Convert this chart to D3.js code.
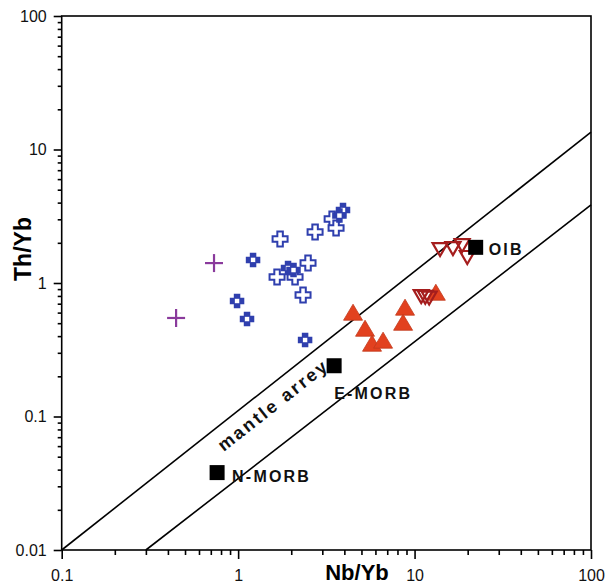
<!DOCTYPE html>
<html>
<head>
<meta charset="utf-8">
<script src="https://cdn.jsdelivr.net/npm/d3@7"></script>
<style>
  html, body { margin: 0; padding: 0; background: #fff; }
  svg { display: block; font-family: "Liberation Sans", Arial, sans-serif; }
</style>
</head>
<body>
<svg id="chart" width="606" height="584"></svg>
<script>
// Nb/Yb vs Th/Yb samples
const purplePlus = [[0.73, 1.41], [0.445, 0.547]];
const blueFilledCross = [[1.215, 1.49], [0.986, 0.733], [1.123, 0.537], [2.396, 0.374], [1.918, 1.295], [2.06, 1.25], [3.93, 3.52], [3.75, 3.2]];
const blueOpenCross = [[1.729, 2.14], [1.662, 1.11], [2.102, 1.11], [2.49, 1.41], [2.333, 0.813], [2.73, 2.41], [3.41, 3.02], [3.59, 2.58]];
const redTriangle = [[4.48, 0.596], [5.24, 0.452], [5.74, 0.349], [6.63, 0.368], [8.83, 0.650], [8.61, 0.501], [13.2, 0.841]];
const openDownTriangle = [[13.95, 1.80], [16.5, 1.83], [18.6, 1.93], [19.9, 1.57], [10.9, 0.80], [11.5, 0.79], [12.1, 0.78]];
// reference compositions
const refNames = ["N-MORB", "E-MORB", "OIB"];
const refNb = [0.76, 3.5, 22.2];
const refTh = [0.038, 0.24, 1.85];
// mantle array boundaries
const arrayUpper = [[0.1, 0.01], [100, 13.5]];
const arrayLower = [[0.3, 0.01], [100, 3.84]];
const xTicks = [0.1, 1, 10, 100];
const yTicks = [0.01, 0.1, 1, 10, 100];

const svg = d3.select("#chart");
const L = 61.7, R = 591, T = 16, B = 550;
const x = d3.scaleLog().domain([0.1, 100]).range([L, R]);
const y = d3.scaleLog().domain([0.01, 100]).range([B, T]);

const minorX = [], minorY = [];
for (let d = 0.1; d < 100; d *= 10) for (let k = 2; k <= 9; k++) minorX.push(+(d * k).toPrecision(3));
for (let d = 0.01; d < 100; d *= 10) for (let k = 2; k <= 9; k++) minorY.push(+(d * k).toPrecision(3));

// frame
svg.append("rect").attr("x", L).attr("y", T).attr("width", R - L).attr("height", B - T)
  .attr("fill", "none").attr("stroke", "#000").attr("stroke-width", 1.6);

// axes
const xAxis = svg.append("g").attr("transform", `translate(0,${B})`);
xAxis.call(d3.axisBottom(x).tickValues(xTicks).tickSize(9).tickFormat(d3.format("")));
xAxis.append("g").call(d3.axisBottom(x).tickValues(minorX).tickSize(5).tickFormat(""));
const yAxis = svg.append("g").attr("transform", `translate(${L},0)`);
yAxis.call(d3.axisLeft(y).tickValues(yTicks).tickSize(8).tickFormat(d => d3.format("")(d)));
yAxis.append("g").call(d3.axisLeft(y).tickValues(minorY).tickSize(4).tickFormat(""));
svg.selectAll(".domain").remove();
svg.selectAll(".tick line").attr("stroke", "#000").attr("stroke-width", 1.6);
xAxis.selectAll(".tick text").attr("font-size", 16).attr("fill", "#111").attr("dy", "1.2em");
yAxis.selectAll(".tick text").attr("font-size", 16).attr("fill", "#111").attr("dx", "-0.25em");

// axis titles
svg.append("text").attr("x", 357).attr("y", 580).attr("text-anchor", "middle")
  .attr("font-size", 22).attr("font-weight", "bold").text("Nb/Yb");
svg.append("text").attr("transform", "translate(31,249) rotate(-90)").attr("text-anchor", "middle")
  .attr("font-size", 23).attr("font-weight", "bold").text("Th/Yb");

// mantle array lines
const line = d3.line().x(d => x(d[0])).y(d => y(d[1]));
[arrayUpper, arrayLower].forEach(seg => svg.append("path").attr("d", line(seg))
  .attr("fill", "none").attr("stroke", "#000").attr("stroke-width", 1.6));

const ang = Math.atan2(y(arrayUpper[1][1]) - y(arrayUpper[0][1]), x(arrayUpper[1][0]) - x(arrayUpper[0][0])) * 180 / Math.PI;
svg.append("text").attr("transform", `translate(277,410) rotate(${ang})`).attr("text-anchor", "middle")
  .attr("font-size", 18).attr("font-weight", "bold").attr("letter-spacing", 2.4).attr("fill", "#111")
  .text("mantle arrey");

// symbol helpers
function crossPath(cx, cy, s, w) {
  const a = s / 2, b = w / 2;
  return `M${cx - b},${cy - a}H${cx + b}V${cy - b}H${cx + a}V${cy + b}H${cx + b}V${cy + a}H${cx - b}V${cy + b}H${cx - a}V${cy - b}H${cx - b}Z`;
}
function triPath(cx, cy, w, h, down) {
  const s = down ? -1 : 1;
  return `M${cx},${cy - s * h * 0.55}L${cx + w / 2},${cy + s * h * 0.45}L${cx - w / 2},${cy + s * h * 0.45}Z`;
}
const blue = "#2f3fae";

// red filled triangles
svg.append("g").selectAll("path").data(redTriangle).join("path")
  .attr("d", d => triPath(x(d[0]), y(d[1]), 19, 16, false))
  .attr("fill", "#e2411f").attr("stroke", "#c23a1c").attr("stroke-width", 0.8);

// open inverted triangles
svg.append("g").selectAll("path").data(openDownTriangle).join("path")
  .attr("d", d => triPath(x(d[0]), y(d[1]), 15, 13, true))
  .attr("fill", "none").attr("stroke", "#a51d1d").attr("stroke-width", 2.2);

// blue open crosses
svg.append("g").selectAll("path").data(blueOpenCross).join("path")
  .attr("d", d => crossPath(x(d[0]), y(d[1]), 15, 5.5))
  .attr("fill", "#fff").attr("stroke", blue).attr("stroke-width", 2);

// blue filled crosses with white centre
const fc = svg.append("g").selectAll("g").data(blueFilledCross).join("g");
fc.append("path").attr("d", d => crossPath(x(d[0]), y(d[1]), 14.5, 6.5)).attr("fill", blue);
fc.append("rect").attr("x", d => x(d[0]) - 2.2).attr("y", d => y(d[1]) - 2.2)
  .attr("width", 4.4).attr("height", 4.4).attr("fill", "#fff");

// purple plus
const pp = svg.append("g").selectAll("g").data(purplePlus).join("g")
  .attr("stroke", "#8a3a9c").attr("stroke-width", 2.2);
pp.append("line").attr("x1", d => x(d[0]) - 9).attr("x2", d => x(d[0]) + 9)
  .attr("y1", d => y(d[1])).attr("y2", d => y(d[1]));
pp.append("line").attr("y1", d => y(d[1]) - 9).attr("y2", d => y(d[1]) + 9)
  .attr("x1", d => x(d[0])).attr("x2", d => x(d[0]));

// reference compositions
const refs = refNames.map((n, i) => ({ n, nb: refNb[i], th: refTh[i] }));
svg.append("g").selectAll("rect").data(refs).join("rect")
  .attr("x", d => x(d.nb) - 7.5).attr("y", d => y(d.th) - 7.5)
  .attr("width", 15).attr("height", 15).attr("fill", "#000");
const labelPos = { "N-MORB": [15, 9], "E-MORB": [0, 33], "OIB": [13, 8] };
svg.append("g").selectAll("text").data(refs).join("text")
  .attr("x", d => x(d.nb) + labelPos[d.n][0]).attr("y", d => y(d.th) + labelPos[d.n][1])
  .attr("font-size", 16).attr("font-weight", "bold").attr("letter-spacing", 2.2).attr("fill", "#111")
  .text(d => d.n);
</script>
</body>
</html>
